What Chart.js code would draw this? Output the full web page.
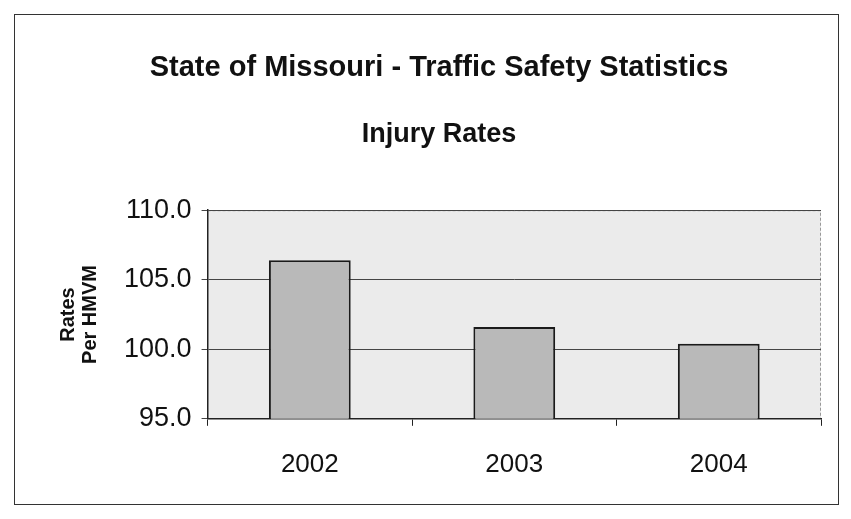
<!DOCTYPE html>
<html>
<head>
<meta charset="utf-8">
<script src="https://cdn.jsdelivr.net/npm/chart.js@4/dist/chart.umd.min.js"></script>
<style>
  body { margin: 0; background: #fff; }
  #wrap { width: 851px; height: 519px; }
</style>
</head>
<body>
<div id="wrap"><canvas id="chart" width="851" height="519"></canvas></div>
<script>
const years = ["2002", "2003", "2004"];
const injuryRates = [106.4, 101.6, 100.4];
const yTicks = [95, 100, 105, 110];

const FONT = "'Liberation Sans', Arial, sans-serif";

// plot area shading + outer frame like the scanned excel chart
const frame = {
  id: "frame",
  beforeDraw(chart) {
    const ctx = chart.ctx;
    const a = chart.chartArea;
    ctx.save();
    ctx.fillStyle = "#ffffff";
    ctx.fillRect(0, 0, chart.width, chart.height);
    ctx.fillStyle = "#ebebeb";
    ctx.fillRect(a.left, a.top, a.right - a.left, a.bottom - a.top);
    ctx.strokeStyle = "#333";
    ctx.lineWidth = 1;
    ctx.strokeRect(14.5, 14.5, 824, 490);
    ctx.strokeStyle = "#999";
    ctx.setLineDash([3, 2]);
    ctx.beginPath();
    ctx.moveTo(a.left, a.top + 0.5);
    ctx.lineTo(a.right - 0.5, a.top + 0.5);
    ctx.lineTo(a.right - 0.5, a.bottom);
    ctx.stroke();
    ctx.restore();
  }
};

const ctx = document.getElementById("chart");

new Chart(ctx, {
  type: "bar",
  data: {
    labels: years,
    datasets: [
      {
        label: "Injury Rates",
        data: injuryRates,
        backgroundColor: "#b9b9b9",
        borderColor: "#1a1a1a",
        borderWidth: 2,
        borderSkipped: false,
        barPercentage: 0.4,
        categoryPercentage: 1
      }
    ]
  },
  options: {
    responsive: false,
    animation: false,
    layout: {
      padding: { left: 57, right: 30, top: 12, bottom: 16 }
    },
    plugins: {
      legend: { display: false },
      tooltip: { enabled: false },
      title: {
        display: true,
        text: "State of Missouri - Traffic Safety Statistics",
        color: "#111",
        font: { family: FONT, size: 29, weight: "bold" },
        padding: { top: 39, bottom: 0 }
      },
      subtitle: {
        display: true,
        text: "Injury Rates",
        color: "#111",
        font: { family: FONT, size: 27, weight: "bold" },
        padding: { top: 33, bottom: 59 }
      }
    },
    scales: {
      x: {
        grid: {
          drawOnChartArea: false,
          drawTicks: true,
          tickLength: 7,
          color: "#222"
        },
        border: { color: "#222", width: 1.5 },
        ticks: {
          color: "#111",
          padding: 23,
          font: { family: FONT, size: 26 }
        }
      },
      y: {
        min: 95,
        max: 110,
        afterBuildTicks(scale) {
          scale.ticks = yTicks.map(v => ({ value: v }));
        },
        grid: {
          color: "#444",
          lineWidth: 1,
          tickLength: 6
        },
        border: { color: "#222", width: 1.5 },
        ticks: {
          color: "#111",
          padding: 10,
          font: { family: FONT, size: 27 },
          callback: v => Number(v).toFixed(1)
        },
        title: {
          display: true,
          text: ["Rates", "Per HMVM"],
          color: "#111",
          font: { family: FONT, size: 20, weight: "bold", lineHeight: 1.1 },
          padding: { top: 0, bottom: 13 }
        }
      }
    }
  },
  plugins: [frame]
});
</script>
</body>
</html>
